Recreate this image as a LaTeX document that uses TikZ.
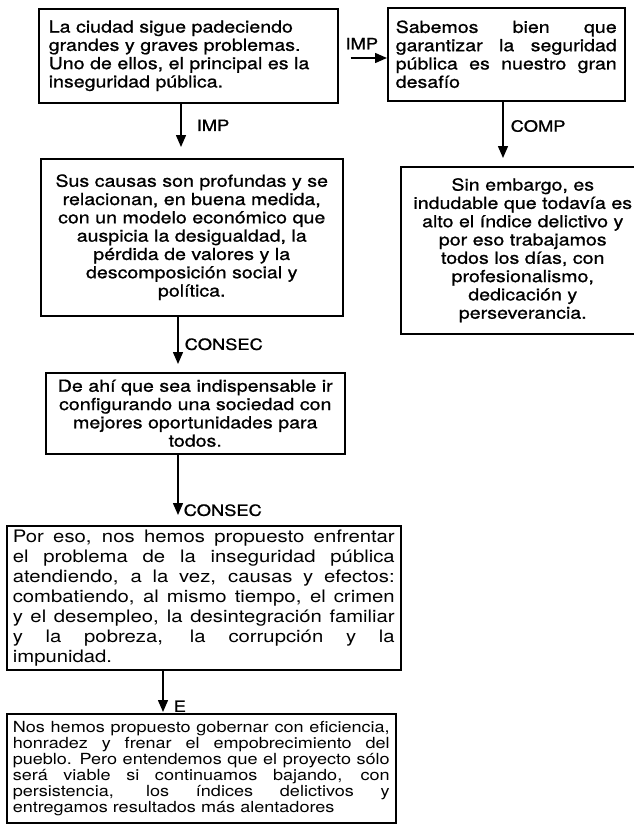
\documentclass[tikz,border=0pt]{standalone}
\usepackage{fontspec}
\setmainfont{TeX Gyre Heros}[FakeStretch=1.18]
\newfontfamily\grueso{TeX Gyre Heros}[FakeStretch=1.18,FakeBold=1]
\usetikzlibrary{arrows.meta,positioning}
\newcommand{\tam}[2]{\fontsize{#1}{#2}\selectfont}
\newcommand{\jlin}[1]{\makebox[\hsize][s]{\spaceskip=0pt\relax #1}}

\begin{document}
\begin{tikzpicture}[x=1pt,y=-1pt,
  caja/.style={draw,line width=1.5pt,anchor=north west,inner xsep=9pt,inner ysep=0pt,font=\grueso\tam{16.6}{18.3}},
  flecha/.style={line width=1.5pt,-{Triangle[length=12pt,width=10pt]}},
  rel/.style={inner sep=1pt,font=\grueso\tam{15.5}{15.5}}]
\useasboundingbox (0,0) rectangle (634,830);

\node[caja,align=left,inner xsep=10pt,text width=279pt,minimum height=94pt] (ciudad) at (38,8)
  {La ciudad sigue padeciendo\\ grandes y graves problemas.\\ Uno de ellos, el principal es la\\ inseguridad pública.};
\node[caja,align=left,inner xsep=8pt,text width=221pt,minimum height=93pt] (desafio) at (387,7)
  {\jlin{Sabemos bien que}\\ \jlin{garantizar la seguridad}\\ \jlin{pública es nuestro gran}\\ desafío};
\node[caja,align=center,text width=284pt,minimum height=157pt] (causas) at (40,158)
  {Sus causas son profundas y se\\ relacionan, en buena medida,\\ con un modelo económico que\\ auspicia la desigualdad, la\\ pérdida de valores y la\\ descomposición social y\\ política.};
\node[caja,align=center,inner xsep=6pt,text width=232pt,minimum height=167pt] (embargo) at (400,166)
  {Sin embargo, es\\ indudable que todavía es\\ alto el índice delictivo y\\ por eso trabajamos\\ todos los días, con\\ profesionalismo,\\ dedicación y\\ perseverancia.};
\node[caja,align=center,text width=281pt,minimum height=81pt] (indisp) at (45,372)
  {De ahí que sea indispensable ir\\ configurando una sociedad con\\ mejores oportunidades para\\ todos.};
\node[caja,align=left,inner xsep=6pt,text width=382pt,minimum height=144pt,font=\normalfont\tam{17.2}{20}] (enfrentar) at (6,525)
  {\jlin{Por eso, nos hemos propuesto enfrentar}\\ \jlin{el problema de la inseguridad pública}\\ \jlin{atendiendo, a la vez, causas y efectos:}\\ \jlin{combatiendo, al mismo tiempo, el crimen}\\ \jlin{y el desempleo, la desintegración familiar}\\ \jlin{y la pobreza, la corrupción y la}\\ impunidad.};
\node[caja,align=left,inner xsep=6pt,text width=377pt,minimum height=109pt,font=\normalfont\tam{15.3}{16}] (gobernar) at (6,713)
  {\jlin{Nos hemos propuesto gobernar con eficiencia,}\\ \jlin{honradez y frenar el empobrecimiento del}\\ \jlin{pueblo. Pero entendemos que el proyecto sólo}\\ \jlin{será viable si continuamos bajando, con}\\ \jlin{persistencia, los índices delictivos y}\\ entregamos resultados más alentadores};

\coordinate (yimp) at (0,58);
\coordinate (ximp) at (181,0);
\coordinate (xcomp) at (503,0);
\coordinate (xcon) at (178,0);
\coordinate (xe) at (163,0);

\draw[flecha,shorten <=12pt] (ciudad.east |- yimp) -- (desafio.west |- yimp) node[rel,pos=0.48,above=7pt] (limph) {IMP};
\draw[flecha,shorten >=11pt] (ciudad.south -| ximp) -- (causas.north -| ximp) node[rel,pos=0.4,right=14pt] (limpv) {IMP};
\draw[flecha,shorten >=8pt] (desafio.south -| xcomp) -- (embargo.north -| xcomp) node[rel,pos=0.38,right=6pt] (lcomp) {COMP};
\draw[flecha,shorten >=8pt] (causas.south -| xcon) -- (indisp.north -| xcon) node[rel,midway,right=5pt] (lconsec) {CONSEC};
\draw[flecha,shorten >=10pt] (indisp.south -| xcon) -- (enfrentar.north -| xcon) node[rel,pos=0.79,right=4pt] (lconsecb) {CONSEC};
\draw[flecha,shorten >=1pt] (enfrentar.south -| xe) -- (gobernar.north -| xe) node[rel,pos=0.84,right=9pt] (le) {E};
\end{tikzpicture}
\end{document}
